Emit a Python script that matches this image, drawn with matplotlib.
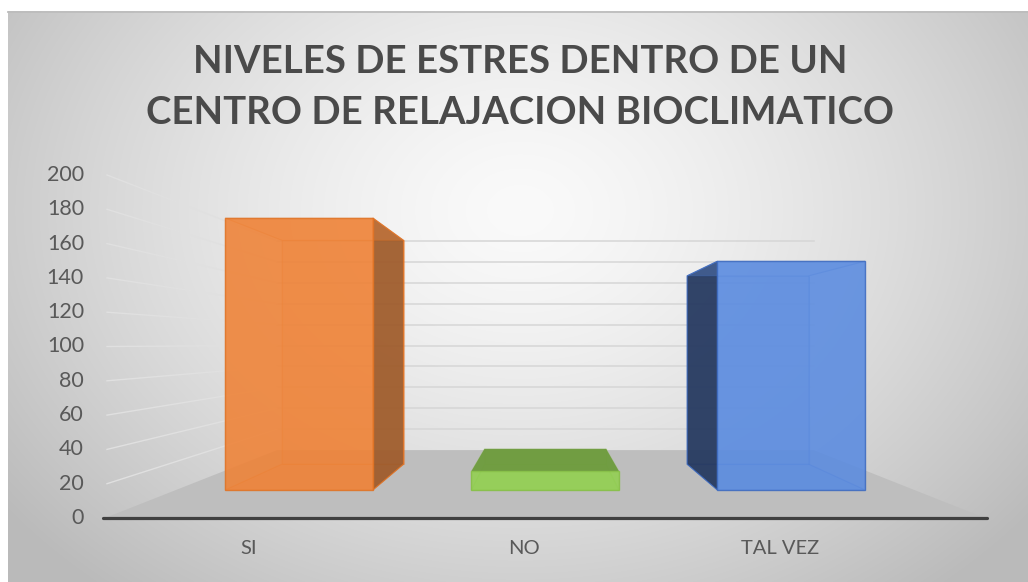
import numpy as np
import matplotlib.pyplot as plt
from matplotlib.patches import Polygon

# Datos de la encuesta
categorias = ["SI", "NO", "TAL VEZ"]
valores = [189, 13, 159]
colores = ["#EF8236", "#92D050", "#5A8BE0"]
colores_lado = ["#9C5A2A", "#6E9B3E", "#22355A"]
colores_borde = ["#E07325", "#86C045", "#3E6BC0"]
ticks_y = list(range(0, 201, 20))
# posicion de las etiquetas de categoria (en unidades de categoria)
pos_etiquetas = [0.49, 1.43, 2.30]

# Perspectiva: plano frontal (z=0) y pared del fondo (z=1)
VP = np.array([546.0, 344.0])
X0, ANCHO_CAT = 105.0, 293.33
Y0, PX_UNIDAD = 518.0, 1.715
PROF = 0.64


def proyectar(cx, v, z):
    frente = np.array([X0 + cx * ANCHO_CAT, Y0 - v * PX_UNIDAD])
    s = 1.0 / (1.0 + PROF * z)
    return VP + s * (frente - VP)


def cara(puntos):
    return np.array([proyectar(*p) for p in puntos])


fig = plt.figure(figsize=(10.28, 5.82), dpi=100)
ax = fig.add_axes([0, 0, 1, 1])
ax.set_xlim(0, 1028)
ax.set_ylim(582, 0)
ax.axis("off")

# Fondo degradado del area del grafico
xx, yy = np.meshgrid(np.arange(8, 1028), np.arange(11, 582))
d = np.sqrt(((xx - 520) / 560.0) ** 2 + ((yy - 210) / 430.0) ** 2)
gris = 250 - 52 * np.clip(d, 0, 1.15) ** 1.4
img = np.dstack([gris, gris, gris]) / 255.0
ax.imshow(img, extent=(8, 1028, 582, 11), zorder=0, interpolation="bilinear")
ax.plot([8, 1028], [11.5, 11.5], color="#BDBDBD", lw=1.3, zorder=1)

# Piso
piso = cara([(0, 0, 0), (3, 0, 0), (3, 0, 1), (0, 0, 1)])
ax.add_patch(Polygon(piso, closed=True, facecolor="#BEBEBE", edgecolor="none", zorder=2))

# Lineas de division en la pared del fondo y la pared lateral
for v in ticks_y[1:]:
    a, b = proyectar(0, v, 1), proyectar(3, v, 1)
    ax.plot([a[0], b[0]], [a[1], b[1]], color="#D6D6D6", lw=1.1, zorder=2)
    c = proyectar(0, v, 0)
    ax.plot([c[0] + 2, a[0]], [c[1], a[1]], color="#E0E0E0", lw=1.0, zorder=2)

# Eje horizontal
a, b = proyectar(0, 0, 0), proyectar(3, 0, 0)
ax.plot([a[0] - 2, b[0] + 2], [a[1], b[1]], color="#404040", lw=2.3,
        solid_capstyle="round", zorder=3)

# Barras 3D
zf, zb = 0.3, 0.7
for i, v in enumerate(valores):
    xl, xr = i + 0.2, i + 0.8
    col, lado, borde = colores[i], colores_lado[i], colores_borde[i]
    atras = cara([(xl, 0, zb), (xr, 0, zb), (xr, v, zb), (xl, v, zb)])
    abajo = cara([(xl, 0, zf), (xr, 0, zf), (xr, 0, zb), (xl, 0, zb)])
    izq = cara([(xl, 0, zf), (xl, 0, zb), (xl, v, zb), (xl, v, zf)])
    der = cara([(xr, 0, zf), (xr, 0, zb), (xr, v, zb), (xr, v, zf)])
    arriba = cara([(xl, v, zf), (xr, v, zf), (xr, v, zb), (xl, v, zb)])
    frente = cara([(xl, 0, zf), (xr, 0, zf), (xr, v, zf), (xl, v, zf)])

    z = 4 + i * 0.1
    ax.add_patch(Polygon(atras, facecolor=col, alpha=0.35, edgecolor=borde, lw=0.8, zorder=z))
    ax.add_patch(Polygon(abajo, facecolor=col, alpha=0.35, edgecolor=borde, lw=0.8, zorder=z))

    ve_izq = X0 + xl * ANCHO_CAT > VP[0]
    ve_der = X0 + xr * ANCHO_CAT < VP[0]
    ve_arriba = Y0 - v * PX_UNIDAD > VP[1]
    for poly, visible in [(izq, ve_izq), (der, ve_der)]:
        if visible:
            ax.add_patch(Polygon(poly, facecolor=lado, alpha=0.9, edgecolor=borde, lw=0.8, zorder=z + 0.01))
        else:
            ax.add_patch(Polygon(poly, facecolor=col, alpha=0.2, edgecolor=borde, lw=0.8, zorder=z + 0.01))
    if ve_arriba:
        ax.add_patch(Polygon(arriba, facecolor=lado, alpha=0.95, edgecolor="none", zorder=z + 0.02))
    else:
        ax.add_patch(Polygon(arriba, facecolor=col, alpha=0.3, edgecolor=borde, lw=0.8, zorder=z + 0.02))
    ax.add_patch(Polygon(frente, facecolor=col, alpha=0.85, edgecolor=borde, lw=1.0, zorder=z + 0.03))

# Etiquetas del eje de valores
for v in ticks_y:
    p = proyectar(0, v, 0)
    ax.text(84, p[1], str(v), ha="right", va="center", fontsize=15.5,
            family="Lato", color="#595959", zorder=6)

# Etiquetas de categoria
for x, nombre in zip(pos_etiquetas, categorias):
    ax.text(X0 + x * ANCHO_CAT, 549, nombre, ha="center", va="center",
            fontsize=14.5, family="Lato", color="#595959", zorder=6)

# Titulo
ax.text(520, 62, "NIVELES DE ESTRES DENTRO DE UN", ha="center", va="center",
        fontsize=27.6, fontweight="bold", family="Lato", color="#4A4A4A", zorder=6)
ax.text(520, 113, "CENTRO DE RELAJACION BIOCLIMATICO", ha="center", va="center",
        fontsize=27.6, fontweight="bold", family="Lato", color="#4A4A4A", zorder=6)

fig.savefig("out.png", dpi=100)
